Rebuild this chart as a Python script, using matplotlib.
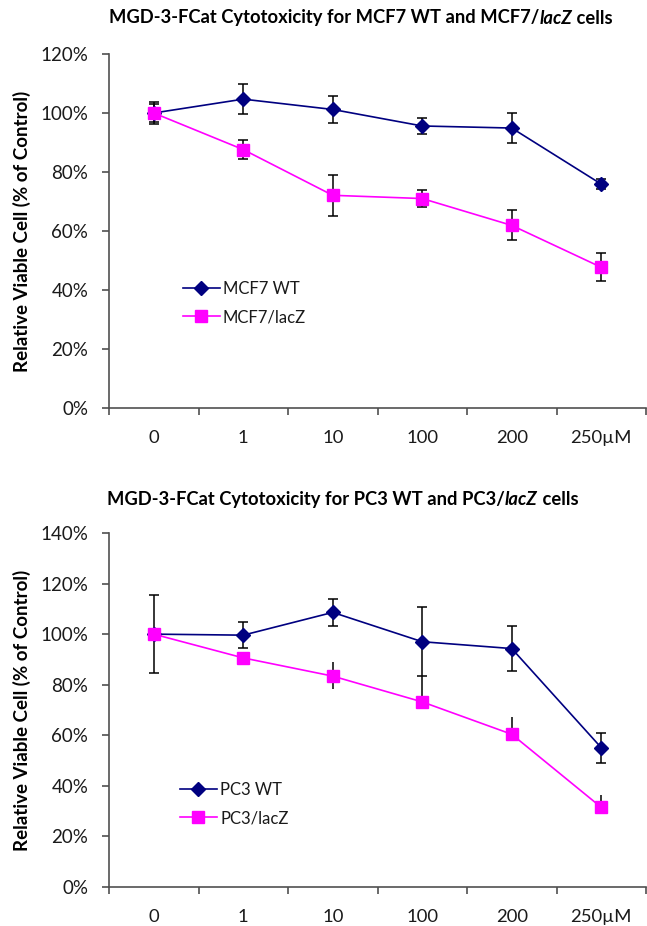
import numpy as np
import matplotlib
matplotlib.use('Agg')
import matplotlib.pyplot as plt
from matplotlib.ticker import FixedLocator, FuncFormatter

plt.rcParams['font.family'] = ['Lato', 'DejaVu Sans']

doses = ['0', '1', '10', '100', '200', '250µM']

# MCF7 panel (% of control)
mcf7_wt = [100, 104.7, 101.2, 95.6, 94.9, 75.9]
mcf7_wt_err = [3.7, 5.2, 4.6, 2.7, 5.0, 1.8]
mcf7_lacz = [100, 87.6, 72.1, 71.0, 61.9, 47.7]
mcf7_lacz_err = [3.0, 3.3, 7.0, 2.9, 5.1, 4.8]

# PC3 panel (% of control)
pc3_wt = [100, 99.6, 108.6, 97.0, 94.3, 55.1]
pc3_wt_err = [15.5, 5.1, 5.3, 13.6, 9.0, 5.9]
pc3_lacz = [100, 90.6, 83.4, 73.2, 60.4, 31.5]
pc3_lacz_lo = [0, 0, 5.0, 0, 0, 0]
pc3_lacz_hi = [0, 0, 5.5, 10.3, 6.8, 4.9]

NAVY = '#000080'
MAG = '#ff00ff'
AX_COL = '#505050'
TXT = '#1a1a1a'

fig = plt.figure(figsize=(6.47, 9.26), dpi=100)
W, H = 647, 926


def make_axes(y_top, y_bot):
    return fig.add_axes([109 / W, 1 - y_bot / H, (646 - 109) / W, (y_bot - y_top) / H])


def style_axes(ax, ymax):
    x = np.arange(len(doses))
    ax.set_xlim(-0.5, len(doses) - 0.5)
    ax.set_ylim(0, ymax)
    # ticks sit between categories, labels in the middle
    ax.xaxis.set_major_locator(FixedLocator(np.arange(len(doses) + 1) - 0.5))
    ax.xaxis.set_major_formatter(FuncFormatter(lambda v, p: ''))
    ax.xaxis.set_minor_locator(FixedLocator(x))
    ax.set_xticklabels(doses, minor=True)
    ax.tick_params(axis='x', which='major', direction='out', length=5, width=1.2, color=AX_COL)
    ax.tick_params(axis='x', which='minor', length=0, pad=16, labelsize=13.3, labelcolor=TXT)
    ax.set_yticks(np.arange(0, ymax + 1, 20))
    ax.yaxis.set_major_formatter(FuncFormatter(lambda v, p: f'{v:.0f}%'))
    ax.tick_params(axis='y', direction='out', length=5, width=1.2, color=AX_COL,
                   pad=10, labelsize=13.5, labelcolor=TXT)
    for s in ['top', 'right']:
        ax.spines[s].set_visible(False)
    for s in ['left', 'bottom']:
        ax.spines[s].set_color(AX_COL)
        ax.spines[s].set_linewidth(1.2)
    ax.set_ylabel('Relative Viable Cell (% of Control)', fontsize=13.5, fontweight='bold',
                  color='black', labelpad=7)


def rich_title(x_px, y_px, parts, size=13.2):
    renderer = fig.canvas.get_renderer()
    x = x_px / W
    for s, st in parts:
        t = fig.text(x, 1 - y_px / H, s, ha='left', va='center', fontsize=size,
                     fontweight='bold', style=st, color='black')
        bb = t.get_window_extent(renderer)
        x = fig.transFigure.inverted().transform((bb.x1, 0))[0]


def panel(ax, wt, wt_err, lz, lz_err, wt_lab, lz_lab, ymax, lz_caps, leg_xy):
    x = np.arange(len(doses))
    ax.errorbar(x, wt, yerr=wt_err, fmt='none', ecolor='black', elinewidth=1.1,
                capsize=3.6, capthick=1.1, zorder=2)
    ax.errorbar(x, lz, yerr=lz_err, fmt='none', ecolor='black', elinewidth=1.1,
                capsize=3.6 if lz_caps else 0, capthick=1.1, zorder=2)
    ax.plot(x, wt, color=NAVY, lw=1.2, marker='D', ms=7, mfc=NAVY, mec=NAVY,
            label=wt_lab, zorder=3)
    ax.plot(x, lz, color=MAG, lw=1.2, marker='s', ms=8.5, mfc=MAG, mec=MAG,
            label=lz_lab, zorder=3)
    style_axes(ax, ymax)
    ax.legend(loc='center left', bbox_to_anchor=(leg_xy[0] / W, 1 - leg_xy[1] / H),
              bbox_transform=fig.transFigure, frameon=False, fontsize=12,
              handlelength=2.2, handletextpad=0.2, labelspacing=0.75,
              borderpad=0, borderaxespad=0, labelcolor=TXT)


ax1 = make_axes(54, 408)
panel(ax1, mcf7_wt, mcf7_wt_err, mcf7_lacz, mcf7_lacz_err,
      'MCF7 WT', 'MCF7/lacZ', 120, True, (183, 303))

ax2 = make_axes(533, 887)
panel(ax2, pc3_wt, pc3_wt_err, pc3_lacz, [pc3_lacz_lo, pc3_lacz_hi],
      'PC3 WT', 'PC3/lacZ', 140, False, (180, 804))

rich_title(109, 18, [('MGD-3-FCat Cytotoxicity for MCF7 WT and MCF7/', 'normal'),
                     ('lacZ', 'italic'), (' cells', 'normal')])
rich_title(107, 500, [('MGD-3-FCat Cytotoxicity for PC3 WT and PC3/', 'normal'),
                      ('lacZ', 'italic'), (' cells', 'normal')])

fig.savefig('out.png', dpi=100)
